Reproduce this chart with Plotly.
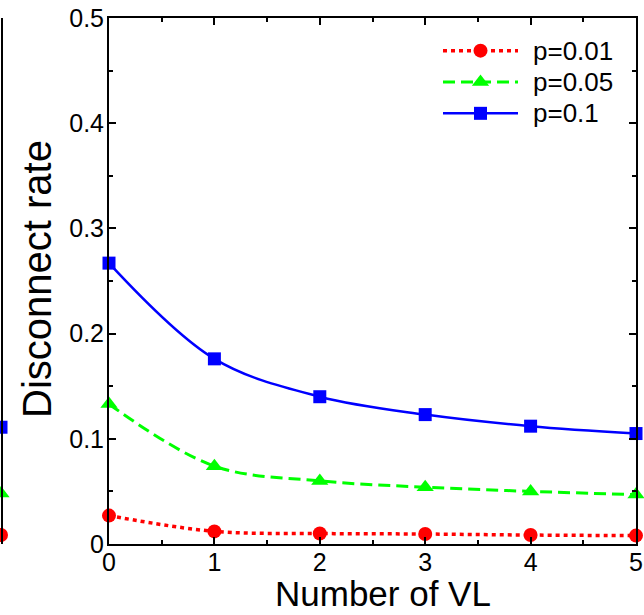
import plotly.graph_objects as go

# ---- data -------------------------------------------------------------
num_vl = [0, 1, 2, 3, 4, 5]
rate_p001 = [0.027, 0.012, 0.010, 0.0095, 0.0085, 0.008]
rate_p005 = [0.133, 0.074, 0.060, 0.054, 0.050, 0.047]
rate_p01 = [0.267, 0.176, 0.140, 0.123, 0.112, 0.105]
series_labels = ["p=0.01", "p=0.05", "p=0.1"]

# last points (x = 5) of the neighbouring panel on the left
adjacent_x = [5]
adjacent_p001 = [0.0086]
adjacent_p005 = [0.048]
adjacent_p01 = [0.111]

y_ticks = [0, 0.1, 0.2, 0.3, 0.4, 0.5]
y_ticktext = ["0", "0.1", "0.2", "0.3", "0.4", "0.5"]
x_ticks = [0, 1, 2, 3, 4, 5]

# ---- styling ----------------------------------------------------------
W, H = 644, 615
FONT = "Arial, Liberation Sans, Helvetica, sans-serif"
RED, GREEN, BLUE = "#ff0000", "#00ff00", "#0000ff"

styles = [
    dict(color=RED, dash="4px,4px", width=3.5, symbol="circle", size=14),
    dict(color=GREEN, dash="12px,6px", width=3, symbol="triangle-up", size=15),
    dict(color=BLUE, dash="solid", width=2.5, symbol="square", size=13),
]
series = [rate_p001, rate_p005, rate_p01]
adjacent = [adjacent_p001, adjacent_p005, adjacent_p01]


def px_x(p):
    return p / W


def px_y(p):
    return 1 - p / H


fig = go.Figure()

# main curves
for vals, st, name in zip(series, styles, series_labels):
    fig.add_trace(go.Scatter(
        x=num_vl, y=vals, name=name, mode="lines+markers",
        line=dict(color=st["color"], dash=st["dash"], width=st["width"],
                  shape="spline", smoothing=1.0),
        marker=dict(color=st["color"], symbol=st["symbol"], size=st["size"],
                    line=dict(width=0)),
        cliponaxis=False, showlegend=False,
        xaxis="x", yaxis="y",
    ))

# neighbouring panel (only its right edge is visible)
for vals, st in zip(adjacent, styles):
    fig.add_trace(go.Scatter(
        x=adjacent_x, y=vals, mode="markers",
        marker=dict(color=st["color"], symbol=st["symbol"], size=st["size"],
                    line=dict(width=0)),
        cliponaxis=False, showlegend=False,
        xaxis="x2", yaxis="y2",
    ))

# legend keys drawn on their own small axis
legend_rows = [1, 2, 3]
for row, st in zip(legend_rows, styles):
    fig.add_trace(go.Scatter(
        x=[0, 2], y=[row, row], mode="lines",
        line=dict(color=st["color"], dash=st["dash"], width=st["width"]),
        cliponaxis=False, showlegend=False, hoverinfo="skip",
        xaxis="x3", yaxis="y3",
    ))
    fig.add_trace(go.Scatter(
        x=[1], y=[row], mode="markers",
        marker=dict(color=st["color"], symbol=st["symbol"], size=st["size"],
                    line=dict(width=0)),
        cliponaxis=False, showlegend=False, hoverinfo="skip",
        xaxis="x3", yaxis="y3",
    ))

annotations = []
for row, label in zip(legend_rows, series_labels):
    annotations.append(dict(
        text=label, xref="paper", yref="y3", x=px_x(531), y=row,
        xanchor="left", yanchor="middle", showarrow=False,
        font=dict(family=FONT, size=26, color="black"),
    ))

annotations.append(dict(
    text="Number of VL", xref="paper", yref="paper",
    x=px_x(383), y=0, xanchor="center", yanchor="bottom",
    showarrow=False, font=dict(family=FONT, size=35, color="black"),
))
annotations.append(dict(
    text="Disconnect rate", xref="paper", yref="paper",
    x=px_x(37), y=px_y(279), xanchor="center", yanchor="middle",
    textangle=-90, showarrow=False,
    font=dict(family=FONT, size=40, color="black"),
))

plot_dom_x = [px_x(109), px_x(636)]
plot_dom_y = [px_y(544), px_y(18)]

axis_common = dict(
    showline=True, linecolor="black", linewidth=2, mirror="ticks",
    ticks="inside", ticklen=7, tickwidth=2, tickcolor="black",
    showgrid=False, zeroline=False,
    tickfont=dict(family=FONT, size=25, color="black"),
    automargin=False,
)

fig.update_layout(
    width=W, height=H,
    margin=dict(l=0, r=0, t=0, b=0),
    paper_bgcolor="white", plot_bgcolor="white",
    template="none",
    showlegend=False,
    annotations=annotations,
    xaxis=dict(
        domain=plot_dom_x, range=[0, 5], anchor="y",
        tickvals=x_ticks, ticktext=[str(v) for v in x_ticks],
        ticklabelstandoff=-5,
        minor=dict(ticks="inside", dtick=0.5, tick0=0, ticklen=4,
                   tickwidth=2, tickcolor="black"),
        **axis_common,
    ),
    yaxis=dict(
        domain=plot_dom_y, range=[0, 0.5], anchor="x",
        tickvals=y_ticks, ticktext=y_ticktext,
        ticklabelstandoff=-2,
        minor=dict(ticks="inside", dtick=0.05, tick0=0, ticklen=4,
                   tickwidth=2, tickcolor="black"),
        **axis_common,
    ),
    xaxis2=dict(
        domain=[0, px_x(1)], range=[4.99, 5], anchor="y2",
        tickvals=[5], ticktext=["5"], ticks="",
        ticklabelstandoff=-5,
        showline=False, showgrid=False, zeroline=False,
        tickfont=dict(family=FONT, size=25, color="black"),
        automargin=False,
    ),
    yaxis2=dict(
        domain=plot_dom_y, range=[0, 0.5], anchor="x2", side="right",
        showline=True, linecolor="black", linewidth=2,
        ticks="", showticklabels=False, showgrid=False, zeroline=False,
        automargin=False,
    ),
    xaxis3=dict(
        domain=[px_x(443), px_x(518)], range=[0, 2], anchor="y3",
        visible=False, fixedrange=True,
    ),
    yaxis3=dict(
        domain=[px_y(129), px_y(35)], range=[3.5, 0.5], anchor="x3",
        visible=False, fixedrange=True,
    ),
)

fig.write_html("out.html")
